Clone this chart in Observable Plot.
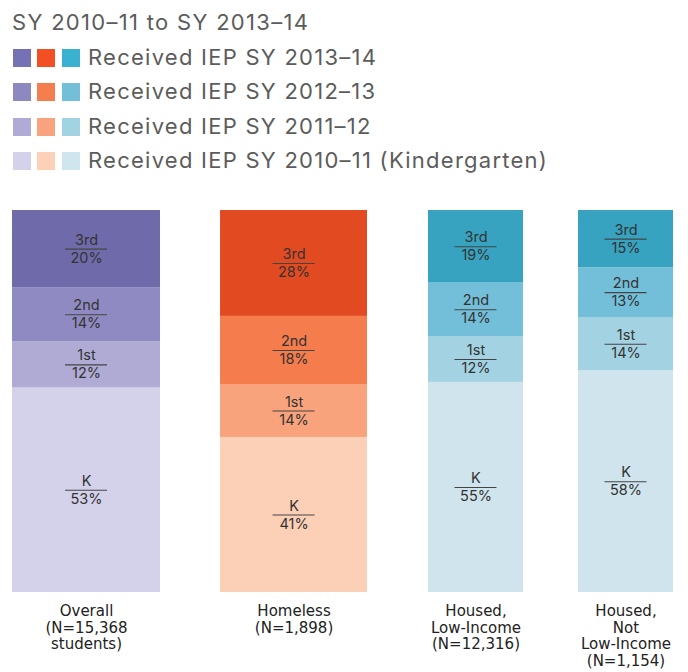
<!DOCTYPE html>
<html>
<head>
<meta charset="utf-8">
<script src="https://cdn.jsdelivr.net/npm/d3@7"></script>
<script src="https://cdn.jsdelivr.net/npm/@observablehq/plot@0.6"></script>
<style>
  html, body { margin: 0; padding: 0; background: #fff; width: 688px; height: 672px; overflow: hidden; }
  #header { position: relative; height: 190px; font-family: Inter, "Liberation Sans", sans-serif; color: #5c5c5c; }
  #subtitle { position: absolute; left: 12px; top: 11px; font-size: 22px; line-height: 22px; white-space: nowrap; letter-spacing: 1.3px; }
  .row { position: absolute; left: 0; height: 18px; }
  .sw { position: absolute; top: 0; width: 18px; height: 18px; }
  .lt { position: absolute; left: 88px; top: -3px; font-size: 22px; line-height: 22px; white-space: nowrap; letter-spacing: 1.25px; }
  #chart svg { display: block; }
  #chart g[aria-label="group labels"] text { letter-spacing: 0.9px; }
  #chart g[aria-label="segment labels"] text { letter-spacing: 0.5px; }
</style>
</head>
<body>
<div id="header">
  <div id="subtitle"></div>
  <div id="legend"></div>
</div>
<div id="chart"></div>
<script>
// ---- data ----
const subtitle = "SY 2010–11 to SY 2013–14";
const groups = ["Overall", "Homeless", "Housed, Low-Income", "Housed, Not Low-Income"];
const groupLabels = [
  "Overall\n(N=15,368\nstudents)",
  "Homeless\n(N=1,898)",
  "Housed,\nLow-Income\n(N=12,316)",
  "Housed,\nNot\nLow-Income\n(N=1,154)"
];
const grades = ["K", "1st", "2nd", "3rd"];
const overall = [53, 12, 14, 20];
const homeless = [41, 14, 18, 28];
const housedLowIncome = [55, 12, 14, 19];
const housedNotLowIncome = [58, 14, 13, 15];
const legendLabels = [
  "Received IEP SY 2013–14",
  "Received IEP SY 2012–13",
  "Received IEP SY 2011–12",
  "Received IEP SY 2010–11 (Kindergarten)"
];

// ---- styles ----
const purple = ["#d4d1ea", "#afabd5", "#8f8bc2", "#6f6aaa"]; // K,1st,2nd,3rd
const orange = ["#fcd0b7", "#f8a37c", "#f47c4d", "#e24a21"];
const teal   = ["#cfe4ed", "#a3d2e2", "#73bed9", "#37a3c0"];
const groupPalettes = [purple, orange, teal, teal];
const legendPurple = ["#d4d2ea", "#afaad6", "#8e88c0", "#7670b4"];
const legendOrange = ["#fdd0b8", "#f8a37e", "#f57e4e", "#f25024"];
const legendTeal   = ["#cfe6ee", "#a2d3e2", "#72bfd7", "#3bb1d2"];
const widthUnits = [1.558, 1.547, 1, 1];
const gapUnits = [0.632, 0.642, 0.579];

// ---- header ----
document.getElementById("subtitle").textContent = subtitle;
const legend = document.getElementById("legend");
legendLabels.forEach((lab, r) => {
  const gi = 3 - r;
  const row = document.createElement("div");
  row.className = "row";
  row.style.top = (48.5 + r * 34.5) + "px";
  row.style.width = "688px";
  [legendPurple, legendOrange, legendTeal].forEach((pal, k) => {
    const s = document.createElement("div");
    s.className = "sw";
    s.style.left = (12.5 + k * 24.5) + "px";
    s.style.background = pal[gi];
    row.appendChild(s);
  });
  const t = document.createElement("div");
  t.className = "lt";
  t.textContent = lab;
  row.appendChild(t);
  legend.appendChild(row);
});

// ---- build table ----
const seriesValues = [overall, homeless, housedLowIncome, housedNotLowIncome];
let cursor = 0;
const groupRows = groups.map((g, i) => {
  const x1 = cursor, x2 = cursor + widthUnits[i];
  cursor = x2 + (gapUnits[i] || 0);
  return {group: g, label: groupLabels[i], x1, x2, xc: (x1 + x2) / 2};
});
const totalUnits = cursor;
const segments = [];
groups.forEach((g, i) => {
  const vals = seriesValues[i];
  const total = d3.sum(vals);
  let acc = 0;
  grades.forEach((gr, j) => {
    const y1 = acc / total * 100;
    acc += vals[j];
    const y2 = acc / total * 100;
    segments.push({
      group: g, grade: gr, value: vals[j],
      pct: vals[j] + "%",
      x1: groupRows[i].x1, x2: groupRows[i].x2, xc: groupRows[i].xc,
      y1, y2, ym: (y1 + y2) / 2,
      color: groupPalettes[i][j]
    });
  });
});

const W = 688, H = 482, ML = 12, MR = 15, MT = 20, MB = 80;
const unitsPerPx = totalUnits / (W - ML - MR);
const halfRule = 21 * unitsPerPx;

const chart = Plot.plot({
  width: W, height: H,
  marginLeft: ML, marginRight: MR, marginTop: MT, marginBottom: MB,
  x: {domain: [0, totalUnits], axis: null},
  y: {domain: [0, 100], axis: null},
  color: {type: "identity"},
  style: {fontFamily: "Inter, 'Liberation Sans', sans-serif", background: "#fff"},
  marks: [
    Plot.rect(segments, {x1: "x1", x2: "x2", y1: "y1", y2: "y2", fill: "color"}),
    Plot.ruleY(segments, {y: "ym", x1: d => d.xc - halfRule, x2: d => d.xc + halfRule, stroke: "#444", strokeWidth: 1.1}),
    Plot.text(segments, {x: "xc", y: "ym", text: "grade", dy: -9, fontSize: 14.5, fill: "#333", ariaLabel: "segment labels"}),
    Plot.text(segments, {x: "xc", y: "ym", text: "pct", dy: 9, fontSize: 14.5, fill: "#333", ariaLabel: "segment labels"}),
    Plot.text(groupRows, {x: "xc", y: 0, text: "label", lineAnchor: "top", dy: 12, lineHeight: 1.1,
      fontSize: 15, fill: "#222", fontFamily: "'DejaVu Sans', sans-serif", ariaLabel: "group labels"})
  ]
});
document.getElementById("chart").appendChild(chart);
</script>
</body>
</html>
